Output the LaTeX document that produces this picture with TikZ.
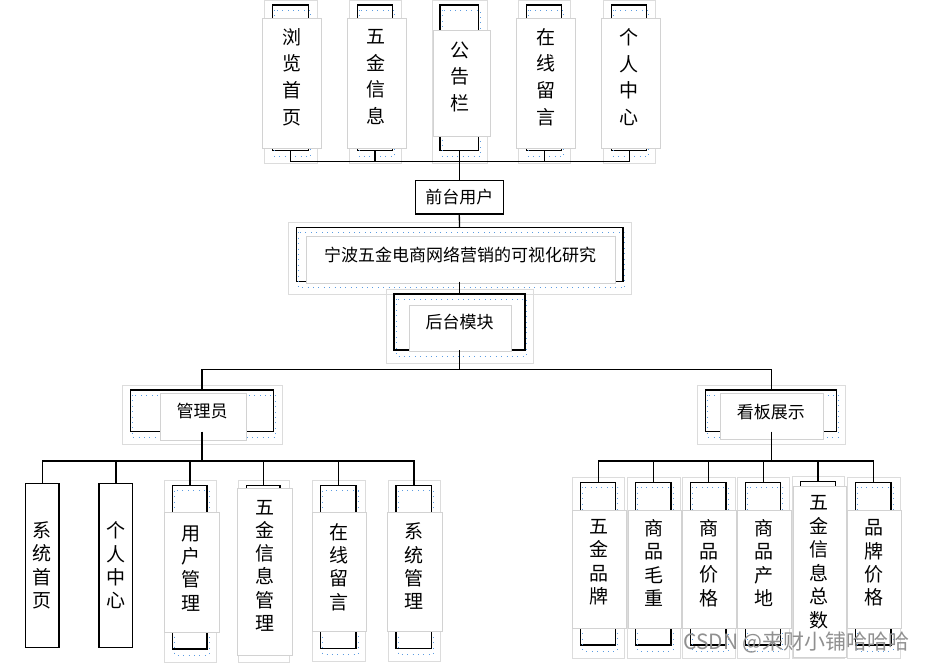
\documentclass[tikz,border=0pt]{standalone}
\usepackage{fontspec}
\newfontfamily\cjk{Noto Sans CJK SC}
\definecolor{gframe}{HTML}{DCDCDC}
\definecolor{wborder}{HTML}{D2D2D2}
\definecolor{dotblue}{RGB}{90,155,225}
\definecolor{wmark}{HTML}{909090}
\newcommand\mkbox[7]{%
  \node[blk, minimum width=#3pt, minimum height=#4pt] (#1) at (#2) {};
  \draw[gfr] ([shift={(-8,-5)}]#1.north west) rectangle ([shift={(9,13)}]#1.south east);
  \draw[dotr] ([shift={(2,5)}]#1.north west) rectangle ([shift={(2,6)}]#1.south east);
  \node[wbox, minimum width=#6pt, minimum height=#7pt] (#1w) at (#5) {};
}
\begin{document}
\begin{tikzpicture}[x=1pt,y=-1pt,
  blk/.style={draw=black, line width=1.4pt, inner sep=0pt, outer sep=0pt},
  wbox/.style={draw=wborder, line width=0.8pt, fill=white, inner sep=0pt, outer sep=0pt},
  gfr/.style={draw=gframe, line width=0.8pt},
  dotr/.style={draw=dotblue, line width=0.8pt, dash pattern=on 0.8pt off 4.6pt},
  vtop/.style={align=center, inner sep=0pt, font=\cjk\fontsize{19pt}{26.7pt}\selectfont},
  vbot/.style={align=center, inner sep=0pt, font=\cjk\fontsize{19pt}{23.3pt}\selectfont},
  htxt/.style={inner sep=0pt, font=\cjk\fontsize{17pt}{20pt}\selectfont},
  conn/.style={draw=black, line width=1.3pt}]
\useasboundingbox (0,0) rectangle (926,662);
\clip (0,0) rectangle (926,662);
\fill[white] (0,0) rectangle (926,662);

% ---- top row ----
\mkbox{t1}{290.5,77.85}{35.6}{145.7}{292.2,83}{59}{130}
\mkbox{t2}{375,77.85}{35.4}{145.7}{377,83}{59.4}{130}
\mkbox{t3}{459.3,77.85}{38.3}{145.7}{462,83}{57.4}{106}
\mkbox{t4}{544.2,77.85}{35}{145.7}{545.5,83}{59}{130}
\mkbox{t5}{629.2,77.85}{35}{145.7}{630.8,83}{58.3}{130}
\node[vtop] (t1t) at (292,77) {浏\\览\\首\\页};
\node[vtop] (t2t) at (376,77) {五\\金\\信\\息};
\node[vtop] (t3t) at (460,76.7) {公\\告\\栏};
\node[vtop] (t4t) at (545.8,77) {在\\线\\留\\言};
\node[vtop] (t5t) at (629,77) {个\\人\\中\\心};

% ---- middle ----
\node[blk, line width=1.3pt, minimum width=88.3pt, minimum height=33.3pt, htxt] (front) at (459.3,197.35) {前台用户};
\mkbox{title}{459.5,254.5}{326.6}{54.4}{460.85,260}{308.3}{46.6}
\node[htxt] (titlet) at (460,255) {宁波五金电商网络营销的可视化研究};
\mkbox{back}{459.5,322}{130.7}{56}{460.5,328.35}{102.4}{46.7}
\node[htxt] (backt) at (459.7,321.7) {后台模块};
\mkbox{adm}{202,410.85}{142.6}{41.7}{203.35,417}{85.3}{47.4}
\node[htxt] (admt) at (202,411) {管理员};
\mkbox{kan}{771.2,410.85}{131}{41.7}{772,416.15}{102.6}{45.7}
\node[htxt] (kant) at (770.8,412) {看板展示};

% ---- bottom left ----
\node[blk, minimum width=33.3pt, minimum height=164pt, vbot] (l1) at (42.35,565.3) {系\\统\\首\\页};
\node[blk, minimum width=33.7pt, minimum height=164pt, vbot] (l2) at (115.85,565.3) {个\\人\\中\\心};
\mkbox{l3}{189.85,567.35}{34.3}{163.3}{191.8,572.3}{55}{120}
\mkbox{l4}{263.35,567.35}{33.3}{163.3}{265,571.65}{55.4}{166.7}
\mkbox{l5}{338.35,567}{35.3}{162.6}{339.35,572}{53.3}{119.4}
\mkbox{l6}{413.85,567}{35.7}{162.6}{415.2,572}{55}{119.4}
\node[vbot] (l3t) at (191,568.3) {用\\户\\管\\理};
\node[vbot] (l4t) at (265.2,565.7) {五\\金\\信\\息\\管\\理};
\node[vbot] (l5t) at (338.8,567) {在\\线\\留\\言};
\node[vbot] (l6t) at (414.2,566.3) {系\\统\\管\\理};

% ---- bottom right ----
\mkbox{r1}{598.2,563.65}{35}{162.7}{599.5,569.15}{54.4}{118.3}
\mkbox{r2}{653.35,563.65}{35.3}{162.7}{654.65,569.15}{52.7}{118.3}
\mkbox{r3}{708.15,563.65}{35.7}{162.7}{709.5,569.15}{54.4}{118.3}
\mkbox{r4}{763.2,563.65}{35}{162.7}{764.7,569.15}{54}{118.3}
\mkbox{r5}{818,563.35}{35.4}{163.3}{819.85,571.85}{53.7}{170.3}
\mkbox{r6}{873.35,563.65}{35.3}{162.7}{874.7,569.15}{54}{118.3}
\node[vbot] (r1t) at (599.2,562.3) {五\\金\\品\\牌};
\node[vbot] (r2t) at (654.2,563) {商\\品\\毛\\重};
\node[vbot] (r3t) at (709.2,563) {商\\品\\价\\格};
\node[vbot] (r4t) at (764.2,563) {商\\品\\产\\地};
\node[vbot, font=\cjk\fontsize{19pt}{23.5pt}\selectfont] (r5t) at (819.2,562) {五\\金\\信\\息\\总\\数};
\node[vbot] (r6t) at (873.5,563) {品\\牌\\价\\格};

% ---- connectors ----
\coordinate (busT) at (459.3,161.7);
\coordinate (busM) at (459.5,369.3);
\coordinate (busL) at (202,461);
\coordinate (busR) at (771.2,461);
\draw[conn] (t1.south) |- (busT);
\draw[conn] (t2.south) |- (busT);
\draw[conn] (t3.south) -- (front.north);
\draw[conn] (t4.south) |- (busT);
\draw[conn] (t5.south) |- (busT);
\draw[conn] (front.south) -- (title.north);
\draw[conn] (title.south) -- (back.north);
\draw[conn] (back.south) -- (busM);
\draw[conn] (busM) -| (adm.north);
\draw[conn] (busM) -| (kan.north);
\draw[conn] (adm.south) -- (busL);
\foreach \n in {l1,l2,l3,l4,l5,l6} \draw[conn] (busL) -| (\n.north);
\draw[conn] (kan.south) -- (busR);
\foreach \n in {r1,r2,r3,r4,r5,r6} \draw[conn] (busR) -| (\n.north);

% ---- watermark ----
\node[anchor=east, inner sep=0pt, text=wmark, font=\cjk\fontsize{21pt}{21pt}\selectfont] (wm) at (910,642) {CSDN @来财小铺哈哈哈};
\end{tikzpicture}
\end{document}
